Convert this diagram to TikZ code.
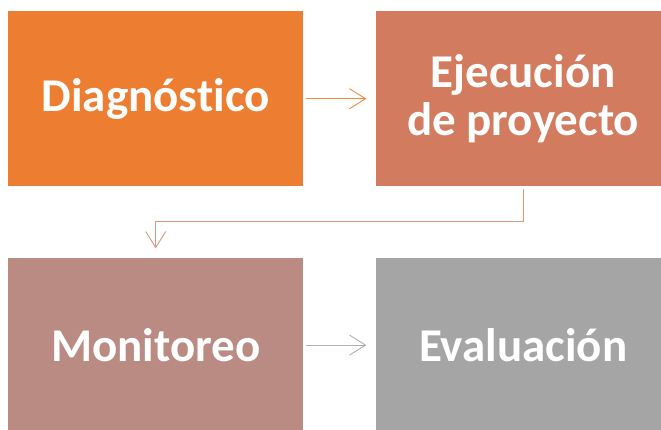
\documentclass[tikz,border=0pt]{standalone}
\usepackage{fontspec}
\setmainfont{Carlito}[Ligatures=NoCommon]
\usepackage{xcolor}
\usetikzlibrary{arrows.meta,positioning,calc}

\definecolor{diagC}{HTML}{ED7D31}
\definecolor{ejecC}{HTML}{D37B5E}
\definecolor{moniC}{HTML}{B98B82}
\definecolor{evalC}{HTML}{A5A5A5}

\begin{document}
\begin{tikzpicture}[
  x=1pt, y=1pt,
  font=\fontsize{47}{48}\selectfont\bfseries,
  box/.style={draw=none, align=center, text=white, minimum width=295pt, minimum height=175pt, inner sep=0pt},
  arr/.style={-{Straight Barb[length=16pt,width=20pt]}, line width=0.9pt}
]
\useasboundingbox (0,0) rectangle (661,-430);
\node[box, fill=diagC, anchor=north west] (diag) at (8,-11) {Diagnóstico};
\node[box, right=72pt of diag, fill=ejecC] (ejec) {Ejecución\\de proyecto};
\node[box, below=71pt of diag, fill=moniC] (moni) {Monitoreo};
\node[box, right=72pt of moni, fill=evalC] (eval) {Evaluación};
\draw[arr, draw=diagC!90] ([xshift=3pt]diag.east) -- ([xshift=-9pt]ejec.west);
\draw[arr, draw=ejecC!80] ([yshift=-3pt]ejec.south) |- ($(ejec.south)!.5!(moni.north)$)
  -| ([yshift=9pt]moni.north);
\draw[arr, draw=evalC!90] ([xshift=3pt]moni.east) -- ([xshift=-9pt]eval.west);
\end{tikzpicture}
\end{document}
